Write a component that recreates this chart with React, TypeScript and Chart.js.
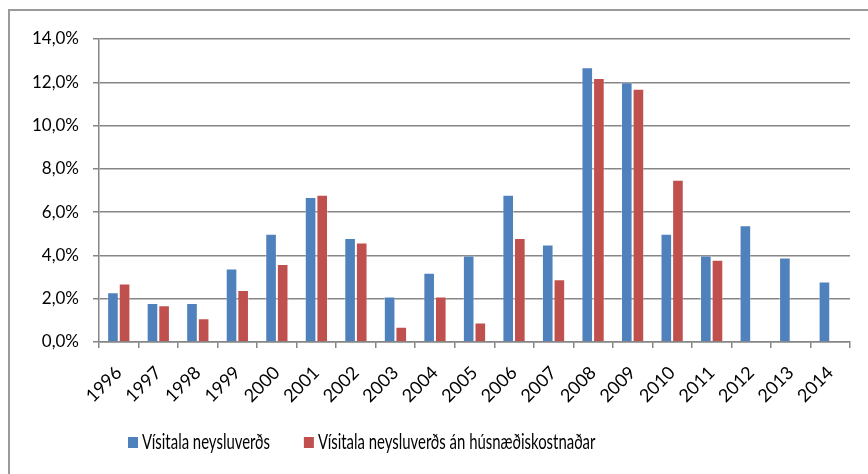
import { useEffect, useRef } from 'react';
import { Chart, registerables } from 'chart.js';

Chart.register(...registerables);

const years = ['1996', '1997', '1998', '1999', '2000', '2001', '2002', '2003', '2004', '2005', '2006', '2007', '2008', '2009', '2010', '2011', '2012', '2013', '2014'];
const cpi = [2.3, 1.8, 1.8, 3.4, 5.0, 6.7, 4.8, 2.1, 3.2, 4.0, 6.8, 4.5, 12.7, 12.0, 5.0, 4.0, 5.4, 3.9, 2.8];
const cpiExHousing = [2.7, 1.7, 1.1, 2.4, 3.6, 6.8, 4.6, 0.7, 2.1, 0.9, 4.8, 2.9, 12.2, 11.7, 7.5, 3.8, null, null, null];
const seriesLabels = ['Vísitala neysluverðs', 'Vísitala neysluverðs án húsnæðiskostnaðar'];
const seriesColors = ['#4F81BD', '#C0504D'];
const yMin = 0;
const yMax = 14;
const yStep = 2;

const LEGEND_FONT = '21px Lato';

const framePlugin = {
  id: 'frame',
  beforeDraw(chart: any) {
    const ctx = chart.ctx;
    ctx.save();
    ctx.strokeStyle = '#9a9a9a';
    ctx.lineWidth = 2;
    ctx.beginPath();
    ctx.moveTo(9, chart.height);
    ctx.lineTo(9, 10);
    ctx.lineTo(chart.width, 10);
    ctx.stroke();
    ctx.restore();
  },
};

const legendPlugin = {
  id: 'customLegend',
  afterDraw(chart: any) {
    const ctx = chart.ctx;
    ctx.save();
    const sx = 0.71;
    ctx.font = LEGEND_FONT;
    ctx.textBaseline = 'alphabetic';
    let x = 128;
    const baseline = 449;
    chart.data.datasets.forEach((ds: any) => {
      ctx.fillStyle = ds.backgroundColor;
      ctx.fillRect(x, 437, 10, 11);
      x += 14;
      ctx.fillStyle = '#000';
      ctx.save();
      ctx.translate(x, baseline);
      ctx.scale(sx, 1);
      ctx.fillText(ds.label, 0, 0);
      ctx.restore();
      x += ctx.measureText(ds.label).width * sx + 34;
    });
    ctx.restore();
  },
};

export default function App() {
  const ref = useRef<HTMLCanvasElement | null>(null);
  useEffect(() => {
    let chart: any = null;
    let cancelled = false;
    const fontsReady = Promise.all([
      document.fonts.load('17px Lato'),
      document.fonts.load(LEGEND_FONT),
    ]).catch(() => null);
    fontsReady.then(() => {
      if (cancelled || !ref.current) return;
      chart = new Chart(ref.current, {
        type: 'bar',
        data: {
          labels: years,
          datasets: [
            { label: seriesLabels[0], data: cpi, backgroundColor: seriesColors[0], borderColor: 'rgba(255,255,255,0.35)', borderWidth: 1, categoryPercentage: 0.588, barPercentage: 1 },
            { label: seriesLabels[1], data: cpiExHousing as any, backgroundColor: seriesColors[1], borderColor: 'rgba(255,255,255,0.35)', borderWidth: 1, categoryPercentage: 0.588, barPercentage: 1 },
          ],
        },
        options: {
          responsive: false,
          animation: false,
          layout: { padding: { top: 39, right: 18, left: 0, bottom: 0 } },
          plugins: { legend: { display: false }, tooltip: { enabled: false } },
          scales: {
            x: {
              offset: true,
              grid: { offset: true, drawOnChartArea: false, drawTicks: true, tickLength: 6, color: '#868686', lineWidth: 1.5 },
              border: { color: '#868686', width: 1.5 },
              ticks: {
                autoSkip: false,
                minRotation: 45,
                maxRotation: 45,
                padding: 14,
                color: '#000',
                font: { family: 'Lato', size: 18 },
              },
              afterFit(scale: any) { scale.height = 132; },
            },
            y: {
              min: yMin,
              max: yMax,
              ticks: {
                stepSize: yStep,
                padding: 14,
                color: '#000',
                font: { family: 'Lato', size: 17 },
                callback: (v: any) => Number(v).toFixed(1).replace('.', ',') + '%',
              },
              grid: { color: '#868686', lineWidth: 1.5, tickLength: 6, drawTicks: true },
              border: { color: '#868686', width: 1.5 },
              afterFit(scale: any) { scale.width = 99; },
            },
          },
        },
        plugins: [framePlugin, legendPlugin],
      });
    });
    return () => {
      cancelled = true;
      if (chart) chart.destroy();
    };
  }, []);
  return (
    <div style={{ position: 'fixed', left: 0, top: 0, width: 868, height: 474, background: '#fff' }}>
      <canvas ref={ref} width={868} height={474} />
    </div>
  );
}
